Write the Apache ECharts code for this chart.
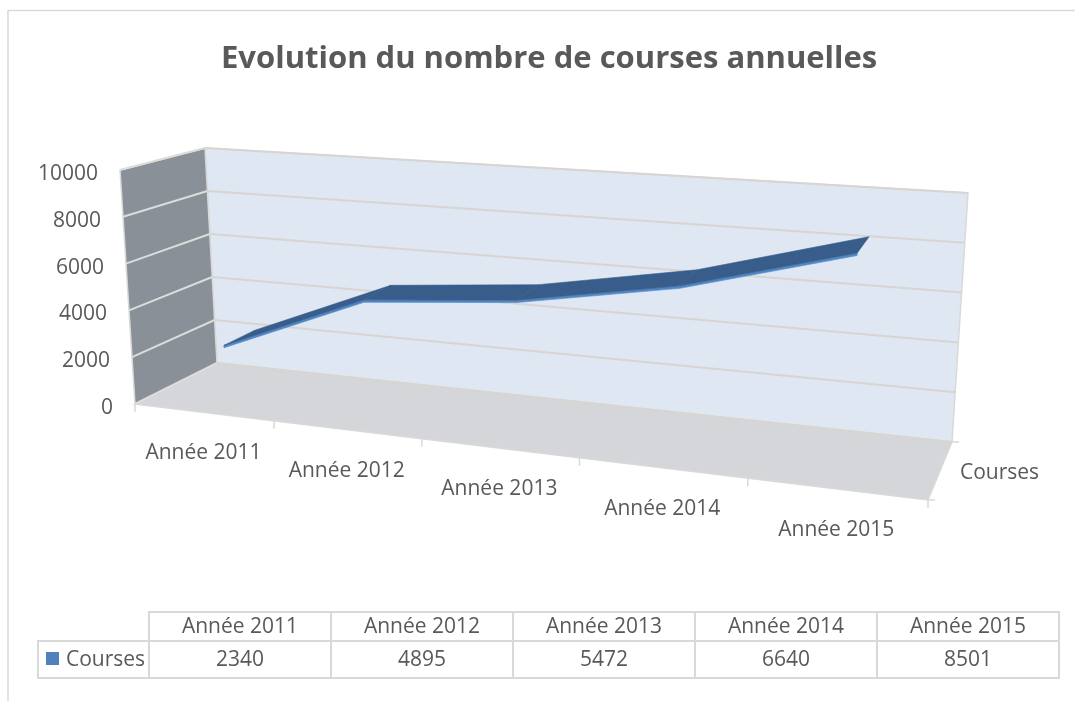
<!DOCTYPE html>
<html>
<head>
<meta charset="utf-8">
<script src="https://cdn.jsdelivr.net/npm/echarts@6/dist/echarts.min.js"></script>
<style>
    html, body { margin: 0; padding: 0; background: #fff; }
    #main { width: 1075px; height: 701px; }
</style>
</head>
<body>
<div id="main"></div>
<script>
var chartTitle = 'Evolution du nombre de courses annuelles';
var seriesName = 'Courses';
var years = ['Année 2011', 'Année 2012', 'Année 2013', 'Année 2014', 'Année 2015'];
var courses = [2340, 4895, 5472, 6640, 8501];
var yTicks = [0, 2000, 4000, 6000, 8000, 10000];

var FONT = '"Open Sans", "Noto Sans", sans-serif';
var TEXT = '#595959';
var LINE = '#d9d9d9';

// the 3d box: back wall plane (depth 0) and front plane (depth 1), screen corners
var BACK = { bl: [217, 363], br: [952, 442], tl: [205, 148], tr: [968, 193] };
var FRONT = { bl: [135, 404], br: [928, 500], tl: [120, 170], tr: [946, 233] };
var K = 0.85;              // foreshortening along the category direction
var RIBBON = [0.3, 0.7];   // depth band of the line ribbon
var RIBBON_T = 100;        // ribbon thickness, in value units

function lerp(a, b, t) {
    return [a[0] + (b[0] - a[0]) * t, a[1] + (b[1] - a[1]) * t];
}
function onPlane(P, s, v) {
    return lerp(lerp(P.bl, P.br, s), lerp(P.tl, P.tr, s), v);
}
function proj(u, v, w) {
    var s = K * u / (1 - (1 - K) * u);
    return lerp(onPlane(BACK, s, v), onPlane(FRONT, s, v), w);
}
// data -> unit cube coordinates, through the cartesian axes
function toUnit(params, api, cat, val) {
    var cs = params.coordSys;
    var p = api.coord([cat, val]);
    return [(p[0] - cs.x) / cs.width, (cs.y + cs.height - p[1]) / cs.height];
}
function txt(text, x, y, align, vAlign) {
    return {
        type: 'text',
        style: {
            text: text, x: x, y: y, align: align, verticalAlign: vAlign,
            fill: TEXT, fontSize: 21, fontFamily: FONT
        }
    };
}
function seg(a, b, color, width) {
    return {
        type: 'line',
        shape: { x1: a[0], y1: a[1], x2: b[0], y2: b[1] },
        style: { stroke: color, lineWidth: width }
    };
}
function poly(pts, fill, stroke, lw) {
    return {
        type: 'polygon',
        shape: { points: pts },
        style: { fill: fill, stroke: stroke || fill, lineWidth: lw == null ? 0.6 : lw }
    };
}

var chart = echarts.init(document.getElementById('main'));

// data table under the chart
var tbl = { left: 149, keyLeft: 38, top: 612, headH: 29, rowH: 37, colW: 182 };
var graphics = [
    seg([8, 10.5], [1075, 10.5], LINE, 1.5),
    seg([8, 10], [8, 701], LINE, 1.5)
];
years.forEach(function (y, i) {
    var x = tbl.left + i * tbl.colW;
    graphics.push({
        type: 'rect',
        shape: { x: x, y: tbl.top, width: tbl.colW, height: tbl.headH },
        style: { fill: 'none', stroke: LINE, lineWidth: 2 }
    });
    graphics.push({
        type: 'rect',
        shape: { x: x, y: tbl.top + tbl.headH, width: tbl.colW, height: tbl.rowH },
        style: { fill: 'none', stroke: LINE, lineWidth: 2 }
    });
    graphics.push(txt(y, x + tbl.colW / 2, tbl.top + tbl.headH / 2 + 1, 'center', 'middle'));
    graphics.push(txt(String(courses[i]), x + tbl.colW / 2, tbl.top + tbl.headH + tbl.rowH / 2 + 1, 'center', 'middle'));
});
graphics.push({
    type: 'rect',
    shape: { x: tbl.keyLeft, y: tbl.top + tbl.headH, width: tbl.left - tbl.keyLeft, height: tbl.rowH },
    style: { fill: 'none', stroke: LINE, lineWidth: 2 }
});
graphics.push({
    type: 'rect',
    shape: { x: 46, y: 652, width: 13, height: 13 },
    style: { fill: '#4f81bd' }
});
graphics.push(txt(seriesName, 66, tbl.top + tbl.headH + tbl.rowH / 2 + 1, 'left', 'middle'));

var option = {
    animation: false,
    title: {
        text: chartTitle,
        left: 221,
        top: 44,
        padding: 0,
        textStyle: { fontSize: 31, fontWeight: 'bold', color: TEXT, fontFamily: FONT }
    },
    grid: { left: 100, right: 100, top: 100, bottom: 100 },
    xAxis: { type: 'category', data: years, show: false },
    yAxis: { type: 'value', min: 0, max: 10000, interval: 2000, show: false },
    graphic: graphics,
    series: [
        {
            // walls and floor
            type: 'custom',
            z: 1,
            clip: false,
            silent: true,
            data: [[0, 0]],
            renderItem: function () {
                return {
                    type: 'group',
                    children: [
                        poly([proj(0, 0, 0), proj(1, 0, 0), proj(1, 0, 1), proj(0, 0, 1)], '#d4d6d9', LINE, 1.5),
                        poly([proj(0, 0, 0), proj(1, 0, 0), proj(1, 1, 0), proj(0, 1, 0)], '#dee7f2', LINE, 1.5),
                        poly([proj(0, 0, 1), proj(0, 0, 0), proj(0, 1, 0), proj(0, 1, 1)], '#899098', LINE, 1.5)
                    ]
                };
            }
        },
        {
            // value gridlines and labels
            type: 'custom',
            z: 2,
            clip: false,
            silent: true,
            data: yTicks.map(function (t) { return [0, t]; }),
            renderItem: function (params, api) {
                var v = toUnit(params, api, 0, api.value(1))[1];
                var f = proj(0, v, 1);
                return {
                    type: 'group',
                    children: [
                        seg(f, proj(0, v, 0), '#dcdcdc', 2),
                        seg(proj(0, v, 0), proj(1, v, 0), '#d8d5d0', 2),
                        txt(String(api.value(1)), f[0] - 22, f[1] + 4, 'right', 'middle')
                    ]
                };
            }
        },
        {
            // category ticks and labels, depth axis label
            type: 'custom',
            z: 2,
            clip: false,
            silent: true,
            data: years.map(function (y, i) { return [i, 0]; }),
            renderItem: function (params, api) {
                var i = params.dataIndexInside;
                var u = toUnit(params, api, api.value(0), 0)[0];
                var half = api.size([1, 0])[0] / params.coordSys.width / 2;
                var c = proj(u, 0, 1);
                var l = proj(u - half, 0, 1);
                var kids = [
                    seg(l, [l[0], l[1] + 8], LINE, 1.5),
                    txt(years[i], c[0], c[1] + 41, 'center', 'middle')
                ];
                if (i === params.dataInsideLength - 1) {
                    var r = proj(u + half, 0, 1);
                    var rb = proj(1, 0, 0);
                    var m = proj(1, 0, 0.5);
                    kids.push(seg(r, [r[0], r[1] + 8], LINE, 1.5));
                    kids.push(seg(r, [r[0] + 7, r[1]], LINE, 1.5));
                    kids.push(seg(rb, [rb[0] + 7, rb[1]], LINE, 1.5));
                    kids.push(txt(seriesName, m[0] + 20, m[1] + 2, 'left', 'middle'));
                }
                return { type: 'group', children: kids };
            }
        },
        {
            // the 3d line ribbon
            name: seriesName,
            type: 'custom',
            z: 3,
            clip: false,
            silent: true,
            data: courses.map(function (c, i) { return [i, c]; }),
            renderItem: function (params, api) {
                var i = params.dataIndexInside;
                if (i >= params.dataInsideLength - 1) return;
                var a = toUnit(params, api, api.value(0, i), api.value(1, i));
                var b = toUnit(params, api, api.value(0, i + 1), api.value(1, i + 1));
                var t = api.size([0, RIBBON_T])[1] / params.coordSys.height;
                var b0 = proj(a[0], a[1], RIBBON[0]), b1 = proj(b[0], b[1], RIBBON[0]);
                var f0 = proj(a[0], a[1], RIBBON[1]), f1 = proj(b[0], b[1], RIBBON[1]);
                var g0 = proj(a[0], a[1] - t, RIBBON[1]), g1 = proj(b[0], b[1] - t, RIBBON[1]);
                return {
                    type: 'group',
                    children: [
                        poly([f0, f1, g1, g0], '#4f86c6'),
                        poly([b0, b1, f1, f0], '#385d8a')
                    ]
                };
            }
        }
    ]
};
chart.setOption(option);
</script>
</body>
</html>
